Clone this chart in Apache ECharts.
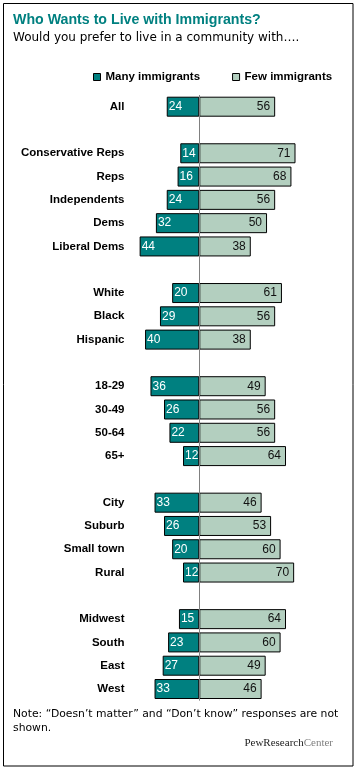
<!DOCTYPE html>
<html>
<head>
<meta charset="utf-8">
<script src="https://cdn.jsdelivr.net/npm/echarts@6/dist/echarts.min.js"></script>
<style>
html,body{margin:0;padding:0;background:#fff;}
#chart{width:356px;height:770px;}
</style>
</head>
<body>
<div id="chart"></div>
<script>
// ---- data ----
var categories = ['All', '', 'Conservative Reps', 'Reps', 'Independents', 'Dems', 'Liberal Dems', '',
  'White', 'Black', 'Hispanic', '', '18-29', '30-49', '50-64', '65+', '',
  'City', 'Suburb', 'Small town', 'Rural', '', 'Midwest', 'South', 'East', 'West'];
var manyImmigrants = [24, null, 14, 16, 24, 32, 44, null, 20, 29, 40, null, 36, 26, 22, 12, null,
  33, 26, 20, 12, null, 15, 23, 27, 33];
var fewImmigrants = [56, null, 71, 68, 56, 50, 38, null, 61, 56, 38, null, 49, 56, 56, 64, null,
  46, 53, 60, 70, null, 64, 60, 49, 46];
var seriesNames = ['Many immigrants', 'Few immigrants'];
var titleText = 'Who Wants to Live with Immigrants?';
var subtitleText = 'Would you prefer to live in a community with\u2026.';
var noteText = 'Note: \u201cDoesn\u2019t matter\u201d and \u201cDon\u2019t know\u201d responses are not\nshown.';

var TEAL = '#008080';
var LIGHT = '#B3CFBF';
var BOLD_FONT = '"Liberation Sans", Arial, sans-serif';

var chart = echarts.init(document.getElementById('chart'), null, {renderer: 'canvas'});
var option = {
  backgroundColor: '#ffffff',
  animation: false,
  legend: {
    left: 93, top: 71, padding: 0,
    itemWidth: 7, itemHeight: 7, itemGap: 32,
    icon: 'rect',
    itemStyle: {borderColor: '#000', borderWidth: 1},
    textStyle: {fontFamily: BOLD_FONT, fontWeight: 'bold', fontSize: 11.5, color: '#000', lineHeight: 12},
    data: seriesNames
  },
  grid: {left: 131.5, right: 48.3, top: 95.05, height: 605.6, containLabel: false},
  xAxis: {
    type: 'value', min: -50, max: 80,
    show: false
  },
  yAxis: {
    type: 'category', inverse: true, data: categories,
    axisLine: {show: false}, axisTick: {show: false}, splitLine: {show: false},
    axisLabel: {
      margin: 7, color: '#000', fontFamily: BOLD_FONT, fontWeight: 'bold', fontSize: 11.5,
      interval: 0
    }
  },
  series: [
    {
      name: seriesNames[0], type: 'bar', barWidth: 20, barGap: '-100%',
      data: manyImmigrants.map(function (v) { return v == null ? null : -v; }),
      itemStyle: {color: TEAL, borderColor: '#000', borderWidth: 1},
      label: {
        show: true, position: 'insideLeft', distance: 2,
        color: '#fff', fontFamily: '"Liberation Sans", Arial, sans-serif', fontSize: 12,
        formatter: function (p) { return Math.abs(p.value); }
      }
    },
    {
      name: seriesNames[1], type: 'bar', barWidth: 20, barGap: '-100%',
      data: fewImmigrants,
      itemStyle: {color: LIGHT, borderColor: '#000', borderWidth: 1},
      label: {
        show: true, position: 'insideRight', distance: 5,
        color: '#111', fontFamily: '"Liberation Sans", Arial, sans-serif', fontSize: 12
      },
      markLine: {
        silent: true, symbol: 'none', label: {show: false},
        lineStyle: {color: '#808080', width: 1, type: 'solid'},
        data: [{xAxis: 0}]
      }
    }
  ],
  graphic: [
    {type: 'rect', shape: {x: 3.5, y: 3.5, width: 349.5, height: 762.5},
     style: {fill: 'none', stroke: '#000', lineWidth: 1}, silent: true},
    {type: 'text', left: 13, top: 13,
     style: {text: titleText, fill: TEAL, font: 'bold 14.2px "Liberation Sans", Arial, sans-serif'}},
    {type: 'text', left: 13, top: 32,
     style: {text: subtitleText, fill: '#000', font: '12px "DejaVu Sans", Verdana, sans-serif'}},
    {type: 'text', left: 13, top: 707,
     style: {text: noteText, fill: '#000', font: '10.8px "DejaVu Sans", Verdana, sans-serif', lineHeight: 14}},
    {type: 'text', right: 23, top: 738,
     style: {
       text: '{a|PewResearch}{b|Center}',
       rich: {
         a: {fill: '#222', font: '11px "Liberation Serif", "Times New Roman", serif'},
         b: {fill: '#808080', font: '11px "Liberation Serif", "Times New Roman", serif'}
       }
     }}
  ]
};
chart.setOption(option);
</script>
</body>
</html>
